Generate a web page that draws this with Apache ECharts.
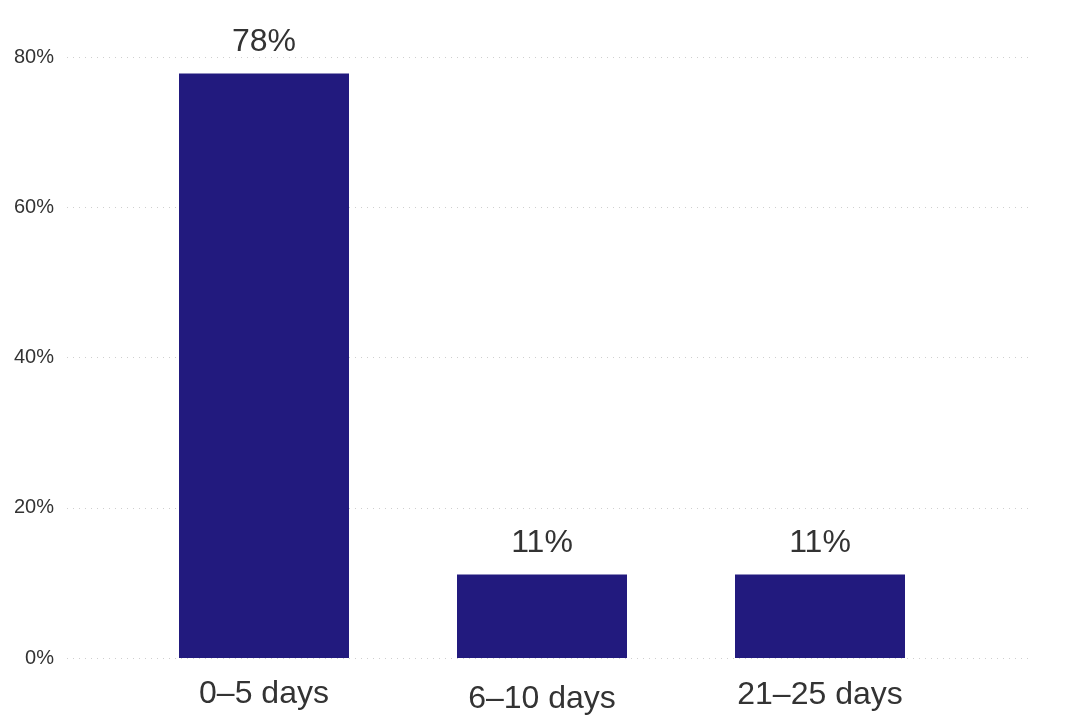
<!DOCTYPE html>
<html>
<head>
<meta charset="utf-8">
<script src="https://cdn.jsdelivr.net/npm/echarts@6/dist/echarts.min.js"></script>
<style>html,body{margin:0;padding:0;background:#fff;}#c{width:1071px;height:723px;}</style>
</head>
<body>
<div id="c"></div>
<script>
const categories = ['0–5 days', '6–10 days', '21–25 days'];
const values = [77.8, 11.1, 11.1];
const yTicks = [0, 20, 40, 60, 80];
const labelOffsets = [0, 5, 1];

const chart = echarts.init(document.getElementById('c'));
const font = 'Liberation Sans, Arial, sans-serif';
chart.setOption({
  animation: false,
  grid: [
    { left: 67, right: 42, top: 57, bottom: 65 },
    { left: 125, right: 112, top: 57, bottom: 65 }
  ],
  xAxis: [
    { gridIndex: 0, type: 'category', data: categories, show: false },
    {
      gridIndex: 1, type: 'category',
      data: categories.map((c, i) => ({ value: c, textStyle: { padding: [labelOffsets[i], 0, 0, 0] } })),
      axisLine: { show: false }, axisTick: { show: false },
      axisLabel: { color: '#333', fontSize: 32, fontFamily: font, margin: 20, interval: 0 }
    }
  ],
  yAxis: [
    {
      gridIndex: 0, type: 'value', min: yTicks[0], max: yTicks[yTicks.length - 1], interval: 20,
      axisLine: { show: false }, axisTick: { show: false },
      axisLabel: { color: '#333', fontSize: 20, fontFamily: font, margin: 13, formatter: v => v + '%' },
      splitLine: { show: true, lineStyle: { color: '#cfcfcf', width: 1, type: [1, 5] } }
    },
    {
      gridIndex: 1, type: 'value', min: yTicks[0], max: yTicks[yTicks.length - 1], interval: 20,
      show: false, splitLine: { show: false }
    }
  ],
  series: [{
    type: 'bar', xAxisIndex: 1, yAxisIndex: 1,
    data: values, barWidth: 170,
    itemStyle: { color: '#221a7e' },
    label: {
      show: true, position: 'top', distance: 15,
      color: '#333', fontSize: 32, fontFamily: font,
      formatter: p => Math.round(p.value) + '%'
    }
  }]
});
</script>
</body>
</html>
